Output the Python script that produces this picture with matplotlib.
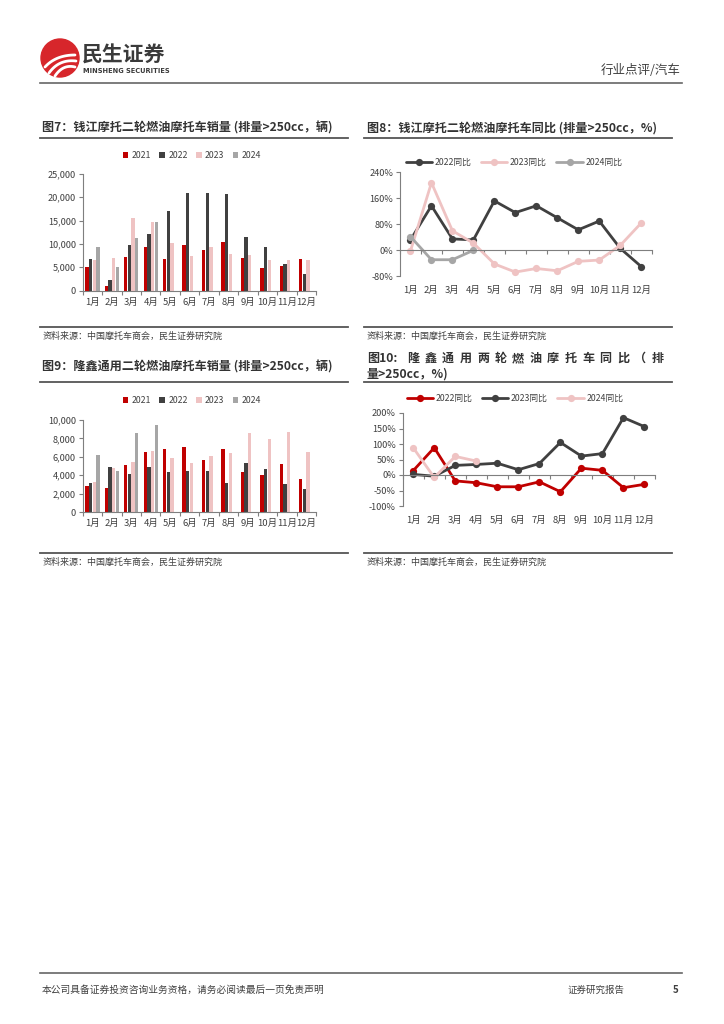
import matplotlib
matplotlib.use("Agg")
import matplotlib.pyplot as plt
from matplotlib.patches import Circle
from matplotlib.lines import Line2D
import matplotlib.transforms as mtransforms
import numpy as np

plt.rcParams['font.family'] = ['Noto Sans CJK SC', 'DejaVu Sans']
plt.rcParams['axes.unicode_minus'] = False

months = ['1月', '2月', '3月', '4月', '5月', '6月', '7月', '8月', '9月', '10月', '11月', '12月']

# 图7 钱江摩托销量
qj_2021 = [5000, 1000, 7200, 9300, 6800, 9700, 8800, 10300, 7000, 4900, 5200, 6800]
qj_2022 = [6700, 2300, 9800, 12100, 17100, 20900, 20800, 20700, 11400, 9300, 5600, 3600]
qj_2023 = [6600, 7000, 15500, 14600, 10200, 7400, 9300, 7900, 7700, 6600, 6600, 6600]
qj_2024 = [9400, 5000, 11200, 14600]

# 图8 钱江摩托同比 (%)
qj_yoy_2022 = [32, 137, 35, 32, 152, 116, 137, 100, 63, 90, 6, -50]
qj_yoy_2023 = [-2, 208, 60, 22, -42, -67, -56, -63, -34, -30, 15, 84]
qj_yoy_2024 = [42, -29, -29, 0]

# 图9 隆鑫通用销量
lx_2021 = [2800, 2600, 5100, 6500, 6850, 7050, 5650, 6850, 4350, 4000, 5200, 3550]
lx_2022 = [3100, 4850, 4100, 4900, 4300, 4500, 4450, 3100, 5300, 4650, 3050, 2500]
lx_2023 = [3250, 4750, 5400, 6600, 5900, 5300, 6100, 6400, 8600, 7900, 8650, 6500]
lx_2024 = [6200, 4450, 8600, 9450]

# 图10 隆鑫通用同比 (%)
lx_yoy_2022 = [14, 88, -19, -25, -38, -38, -22, -54, 22, 15, -41, -30]
lx_yoy_2023 = [2, -4, 31, 34, 38, 17, 37, 105, 61, 69, 185, 156]
lx_yoy_2024 = [88, -8, 60, 45]

RED = '#C00000'
DARK = '#404040'
PINK = '#EFC3C3'
GRAY = '#A6A6A6'
TXT = '#404040'

W, H = 724, 1024
fig = plt.figure(figsize=(W / 100, H / 100), dpi=100)


def rect(x0, y0, x1, y1):
    return [x0 / W, 1 - y1 / H, (x1 - x0) / W, (y1 - y0) / H]


def fx(x):
    return x / W


def fy(y):
    return 1 - y / H


def hline(x0, x1, y, lw=1.2, color='#555555'):
    fig.add_artist(Line2D([fx(x0), fx(x1)], [fy(y), fy(y)], lw=lw, color=color,
                          transform=fig.transFigure))


def style_axes(ax):
    for s in ['top', 'right']:
        ax.spines[s].set_visible(False)
    for s in ['left', 'bottom']:
        ax.spines[s].set_color('#7f7f7f')
        ax.spines[s].set_linewidth(0.8)
    ax.tick_params(axis='both', colors='#7f7f7f', labelcolor=TXT, labelsize=6.6,
                   length=3, width=0.8, direction='out', pad=2)


def bar_chart(rc, data, colors, labels, ylim, yticks, legend_xy):
    ax = fig.add_axes(rect(*rc))
    x = np.arange(12)
    step, w = 0.19, 0.17
    for i, (d, c, lab) in enumerate(zip(data, colors, labels)):
        xs = np.arange(len(d)) + (i - 1.5) * step
        ax.bar(xs, d, width=w, color=c, label=lab, linewidth=0)
    ax.set_xlim(-0.5, 11.5)
    ax.set_ylim(*ylim)
    ax.set_yticks(yticks)
    ax.set_yticklabels([f'{v:,}' for v in yticks])
    ax.set_xticks(np.arange(-0.5, 12, 1))
    ax.set_xticklabels([])
    ax.set_xticks(x, minor=True)
    ax.set_xticklabels(months, minor=True)
    style_axes(ax)
    ax.tick_params(axis='x', which='minor', length=0, labelsize=6.8, labelcolor=TXT, pad=5)
    leg = ax.legend(loc='center', bbox_to_anchor=(fx(legend_xy[0]), fy(legend_xy[1])),
                    bbox_transform=fig.transFigure,
                    ncol=4, frameon=False, fontsize=6.3, handlelength=0.6, handleheight=0.6,
                    columnspacing=1.0, handletextpad=0.4)
    for t in leg.get_texts():
        t.set_color(TXT)
    return ax


def line_chart(rc, data, colors, labels, ylim, yticks, legend_xy, label_y):
    ax = fig.add_axes(rect(*rc))
    for d, c, lab in zip(data, colors, labels):
        ax.plot(np.arange(len(d)), d, color=c, lw=2.0, marker='o', markersize=5.2,
                markeredgewidth=0, label=lab, solid_capstyle='round')
    ax.set_xlim(-0.5, 11.5)
    ax.set_ylim(*ylim)
    ax.set_yticks(yticks)
    ax.set_yticklabels([f'{v}%' for v in yticks])
    style_axes(ax)
    ax.spines['bottom'].set_position(('data', 0))
    ax.set_xticks(np.arange(-0.5, 12, 1))
    ax.set_xticklabels([])
    trans = mtransforms.blended_transform_factory(ax.transData, fig.transFigure)
    for i, m in enumerate(months):
        ax.text(i, fy(label_y), m, transform=trans, ha='center', va='center',
                fontsize=6.8, color=TXT)
    leg = ax.legend(loc='center', bbox_to_anchor=(fx(legend_xy[0]), fy(legend_xy[1])),
                    bbox_transform=fig.transFigure,
                    ncol=3, frameon=False, fontsize=6.3, handlelength=3.0,
                    columnspacing=1.1, handletextpad=0.3)
    for t in leg.get_texts():
        t.set_color(TXT)
    return ax


# ---------- Header ----------
logo_ax = fig.add_axes(rect(40, 38, 80, 78))
logo_ax.set_xlim(-1, 1)
logo_ax.set_ylim(-1, 1)
logo_ax.set_aspect('equal')
logo_ax.axis('off')
logo_ax.add_patch(Circle((0, 0), 0.95, color='#D7262B'))
tt = np.linspace(0, 1, 40)
for (sx, sy), (cx, cy), (ex, ey) in [((-0.75, -0.45), (-0.2, 0.15), (0.75, 0.15)),
                                     ((-0.55, -0.75), (-0.05, -0.05), (0.8, -0.15)),
                                     ((-0.25, -0.9), (0.15, -0.3), (0.75, -0.45))]:
    bx = (1 - tt) ** 2 * sx + 2 * (1 - tt) * tt * cx + tt ** 2 * ex
    by = (1 - tt) ** 2 * sy + 2 * (1 - tt) * tt * cy + tt ** 2 * ey
    logo_ax.plot(bx, by, color='white', lw=2.0, solid_capstyle='round')
fig.text(fx(82), fy(55), '民生证券', fontsize=15, fontweight='bold', color='#3a3a3a',
         ha='left', va='center')
fig.text(fx(83), fy(71), 'MINSHENG SECURITIES', fontsize=4.8, fontweight='bold',
         color='#3a3a3a', ha='left', va='center', family=['DejaVu Sans'])
fig.text(fx(681), fy(70), '行业点评/汽车', fontsize=9, color=TXT, ha='right', va='center')
hline(40, 682, 83, lw=1.2, color='#666666')

# ---------- Titles ----------
TFS = 8.7
SFS = 6.5
SRC = '资料来源：中国摩托车商会，民生证券研究院'
fig.text(fx(42), fy(128), '图7：钱江摩托二轮燃油摩托车销量 (排量>250cc，辆)', fontsize=TFS,
         fontweight='bold', color='#333333', ha='left', va='center')
hline(40, 348, 137.5, lw=1.3)
fig.text(fx(367), fy(128), '图8：钱江摩托二轮燃油摩托车同比 (排量>250cc，%)', fontsize=TFS,
         fontweight='bold', color='#333333', ha='left', va='center')
hline(364, 672, 137.5, lw=1.3)

hline(40, 348, 327, lw=1.3)
hline(364, 672, 327, lw=1.3)
fig.text(fx(43), fy(336), SRC, fontsize=SFS, color=TXT, ha='left', va='center')
fig.text(fx(367), fy(336), SRC, fontsize=SFS, color=TXT, ha='left', va='center')

fig.text(fx(42), fy(367), '图9：隆鑫通用二轮燃油摩托车销量 (排量>250cc，辆)', fontsize=TFS,
         fontweight='bold', color='#333333', ha='left', va='center')
hline(40, 348, 381.5, lw=1.3)

# justified first line of 图10 title
fig.text(fx(367), fy(362), '图10:', fontsize=TFS, fontweight='bold', color='#333333',
         ha='left', va='baseline')
spread = ['隆', '鑫', '通', '用', '两', '轮', '燃', '油', '摩', '托', '车', '同', '比', '（', '排']
xs_sp = np.linspace(413, 658, len(spread))
for ch, xp in zip(spread, xs_sp):
    fig.text(fx(xp), fy(362), ch, fontsize=TFS, fontweight='bold', color='#333333',
             ha='center', va='baseline')
fig.text(fx(367), fy(374), '量>250cc，%)', fontsize=TFS,
         fontweight='bold', color='#333333', ha='left', va='center')
hline(364, 672, 381.5, lw=1.3)

hline(40, 348, 553, lw=1.3)
hline(364, 672, 553, lw=1.3)
fig.text(fx(43), fy(562), SRC, fontsize=SFS, color=TXT, ha='left', va='center')
fig.text(fx(367), fy(562), SRC, fontsize=SFS, color=TXT, ha='left', va='center')

# ---------- Charts ----------
bar_chart((82.7, 173.7, 316, 290.7), [qj_2021, qj_2022, qj_2023, qj_2024],
          [RED, DARK, PINK, GRAY], ['2021', '2022', '2023', '2024'],
          (0, 25000), [0, 5000, 10000, 15000, 20000, 25000], (192, 155.5))

line_chart((400, 172.3, 651.7, 276.3), [qj_yoy_2022, qj_yoy_2023, qj_yoy_2024],
           [DARK, PINK, GRAY], ['2022同比', '2023同比', '2024同比'],
           (-80, 240), [-80, 0, 80, 160, 240], (514, 162.5), 290.5)

bar_chart((82.7, 420, 316, 512), [lx_2021, lx_2022, lx_2023, lx_2024],
          [RED, DARK, PINK, GRAY], ['2021', '2022', '2023', '2024'],
          (0, 10000), [0, 2000, 4000, 6000, 8000, 10000], (192, 400.5))

line_chart((402.7, 413, 655, 506), [lx_yoy_2022, lx_yoy_2023, lx_yoy_2024],
           [RED, DARK, PINK], ['2022同比', '2023同比', '2024同比'],
           (-100, 200), [-100, -50, 0, 50, 100, 150, 200], (515, 398.3), 520)

# ---------- Footer ----------
hline(40, 682, 973, lw=1.2, color='#666666')
fig.text(fx(42), fy(990), '本公司具备证券投资咨询业务资格，请务必阅读最后一页免责声明', fontsize=7,
         color=TXT, ha='left', va='center')
fig.text(fx(568), fy(990), '证券研究报告', fontsize=6.8, color=TXT, ha='left', va='center')
fig.text(fx(676), fy(990), '5', fontsize=7, fontweight='bold', color=TXT, ha='center', va='center')

fig.savefig('out.png', dpi=100, facecolor='white')
